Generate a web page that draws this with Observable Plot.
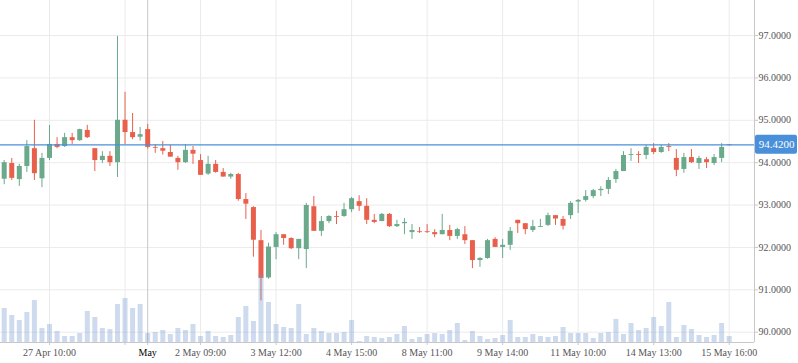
<!DOCTYPE html>
<html>
<head>
<meta charset="utf-8">
<script src="https://cdn.jsdelivr.net/npm/d3@7"></script>
<script src="https://cdn.jsdelivr.net/npm/@observablehq/plot@0.6"></script>
<style>
  html, body { margin: 0; padding: 0; background: #fff; }
  #chart { position: relative; width: 798px; height: 363px; overflow: hidden; }
  #chart svg { position: absolute; left: 0; top: 0; }
  #chart svg.vol { pointer-events: none; }
</style>
</head>
<body>
<div id="chart"></div>
<script>
// OHLC + volume per trading period (index 0..96)
const opens  = [93.61,93.98,93.60,93.91,94.33,93.62,94.10,94.43,94.38,94.59,94.52,94.76,94.33,94.05,94.15,94.00,95.00,94.71,94.60,94.78,
                94.36,94.33,94.24,94.10,94.00,94.29,94.05,93.73,93.96,93.77,93.66,93.72,93.13,92.94,92.16,91.28,92.00,92.30,92.21,91.97,
                91.95,92.96,92.38,92.61,92.73,92.73,92.89,93.08,92.97,92.64,92.61,92.78,92.49,92.56,92.35,92.37,92.37,92.35,92.30,92.40,
                92.26,92.30,92.16,91.69,91.74,92.19,92.00,92.05,92.64,92.56,92.40,92.47,92.52,92.75,92.66,92.75,93.07,93.11,93.20,93.34,
                93.37,93.60,93.79,94.17,94.19,94.17,94.33,94.24,94.38,94.10,93.84,94.12,93.98,94.07,93.98,94.10,94.42];
const highs  = [94.05,94.10,93.96,94.52,95.00,94.22,94.88,94.59,94.69,94.69,94.79,94.88,94.33,94.26,94.26,96.98,95.66,95.16,94.83,94.90,
                94.43,94.50,94.41,94.15,94.43,94.38,94.19,94.15,94.05,93.86,93.75,93.75,93.27,92.96,92.40,92.10,92.35,92.30,92.23,92.19,
                93.04,93.20,92.73,92.75,92.85,93.04,93.18,93.22,93.15,92.78,92.80,92.80,92.64,92.68,92.54,92.47,92.54,92.42,92.78,92.52,
                92.45,92.49,92.16,91.76,92.19,92.23,92.19,92.47,92.64,92.56,92.64,92.66,92.81,92.75,92.73,93.08,93.13,93.34,93.37,93.43,
                93.65,93.84,94.26,94.33,94.26,94.41,94.45,94.41,94.45,94.31,94.22,94.31,94.15,94.12,94.19,94.45,94.42];
const lows   = [93.48,93.58,93.44,93.77,93.58,93.41,94.05,94.33,94.36,94.43,94.50,94.57,93.79,93.98,93.91,93.65,94.43,94.54,94.51,94.32,
                94.22,94.18,94.13,93.82,93.98,93.96,93.70,93.70,93.75,93.66,93.61,93.09,92.66,91.77,90.74,91.25,91.71,92.05,91.95,91.71,
                91.50,92.38,92.26,92.56,92.54,92.71,92.82,92.85,92.54,92.56,92.61,92.47,92.47,92.30,92.19,92.33,92.33,92.23,92.30,92.16,
                92.19,92.07,91.50,91.53,91.72,92.00,91.74,91.93,92.33,92.30,92.35,92.47,92.49,92.52,92.41,92.66,92.80,93.07,93.15,93.20,
                93.25,93.51,93.79,94.03,93.98,94.07,94.19,94.22,94.26,93.67,93.75,93.98,93.84,93.86,93.93,94.00,94.40];
const closes = [94.00,93.63,93.91,94.38,93.74,94.10,94.43,94.36,94.59,94.52,94.78,94.59,94.05,94.15,94.00,95.00,94.71,94.59,94.66,94.36,
                94.34,94.27,94.13,94.00,94.29,94.20,93.70,93.96,93.77,93.66,93.72,93.13,93.02,92.17,91.27,92.01,92.30,92.21,91.97,92.19,
                92.99,92.38,92.61,92.73,92.71,92.89,93.15,92.97,92.64,92.59,92.78,92.49,92.54,92.59,92.40,92.35,92.35,92.30,92.40,92.26,
                92.42,92.16,91.69,91.74,92.16,92.00,92.05,92.38,92.56,92.42,92.49,92.49,92.75,92.67,92.50,93.04,93.11,93.20,93.34,93.37,
                93.58,93.79,94.17,94.19,94.17,94.36,94.24,94.36,94.36,93.82,94.12,94.00,94.10,94.00,94.12,94.36,94.40];
const volumes = [34,27,22,30,42,14,18,11,6,6,9,31,25,14,13,38,44,34,38,9,
                 10,12,8,14,12,18,6,11,6,5,7,25,36,21,68,40,18,15,14,38,
                 8,14,11,9,9,10,22,1,6,5,4,5,8,16,3,5,8,9,8,12,
                 19,2,11,6,3,4,7,22,5,5,8,6,5,6,15,9,9,9,4,9,
                 10,23,8,19,12,14,25,16,40,5,17,13,7,5,7,19,6].map(v => v * 1000);

// axis ticks
const tickIndex  = [6, 16, 19, 26, 36, 46, 56, 66, 76, 86, 96];
const tickLabels = ["27 Apr 10:00", "", "May", "2 May 09:00", "3 May 12:00", "4 May 15:00",
                    "8 May 11:00", "9 May 14:00", "11 May 10:00", "14 May 13:00", "15 May 16:00"];
const monthStart = 19;
const priceTicks = [90, 91, 92, 93, 94, 95, 96, 97];
const lastPrice = 94.42;

const candles = opens.map((o, i) => ({
  i, open: o, high: highs[i], low: lows[i], close: closes[i], volume: volumes[i],
  up: closes[i] >= o
}));

const W = 798, H = 363;
const M = {top: 0, right: 44, bottom: 21, left: 0};
const xDomain = [-0.49, 99.35];
const yDomain = [89.757, 97.826];
const GREEN = "#6aa98b", RED = "#e8604c", BLUE = "#4a8fd9";
const FONT = "'Liberation Serif', 'Times New Roman', serif";
const labelOf = new Map(tickIndex.map((t, k) => [t, tickLabels[k]]));

const main = Plot.plot({
  width: W, height: H,
  marginTop: M.top, marginRight: M.right, marginBottom: M.bottom, marginLeft: M.left,
  style: {fontFamily: FONT, fontSize: "10px", background: "transparent", overflow: "visible"},
  x: {type: "linear", domain: xDomain, axis: null, label: null},
  y: {domain: yDomain, axis: null, label: null},
  marks: [
    Plot.gridY(priceTicks, {stroke: "#ebebeb", strokeOpacity: 1}),
    Plot.gridX(tickIndex.filter(t => t !== monthStart), {stroke: "#ebebeb", strokeOpacity: 1}),
    Plot.ruleX([monthStart], {stroke: "#c8c8c8", y1: yDomain[0], y2: yDomain[1]}),
    // axis lines
    Plot.ruleY([yDomain[0]], {stroke: "#c8c8c8"}),
    Plot.ruleX([xDomain[1]], {stroke: "#c8c8c8"}),
    Plot.axisY(priceTicks, {anchor: "right", label: null, tickSize: 3, tickPadding: 1, stroke: "#c8c8c8",
      fill: "#555", tickFormat: d => d.toFixed(4), fontSize: 10}),
    Plot.axisX(tickIndex, {anchor: "bottom", label: null, tickSize: 3, tickPadding: 3, stroke: "#c8c8c8",
      fill: d => d === monthStart ? "#000" : "#555",
      fontWeight: d => d === monthStart ? "bold" : "normal",
      tickFormat: d => labelOf.get(d), fontSize: 10}),
    // candles
    Plot.ruleX(candles, {x: "i", y1: "low", y2: "high", stroke: d => d.up ? GREEN : RED, strokeWidth: 1}),
    Plot.ruleX(candles, {x: "i", y1: "open", y2: "close", stroke: d => d.up ? GREEN : RED, strokeWidth: 5}),
    // last price line
    Plot.ruleY([lastPrice], {stroke: BLUE, strokeWidth: 1.2, x1: xDomain[0], x2: xDomain[1]})
  ]
});

const vol = Plot.plot({
  width: W, height: H,
  marginTop: M.top, marginRight: M.right, marginBottom: M.bottom, marginLeft: M.left,
  style: {background: "transparent"},
  x: {type: "linear", domain: xDomain, axis: null},
  y: {domain: [0, 342000], axis: null},
  marks: [
    Plot.ruleX(candles, {x: "i", y1: 0, y2: "volume", stroke: "#6f94c9", strokeOpacity: 0.34, strokeWidth: 5})
  ]
});
vol.classList.add("vol");

const label = Plot.plot({
  width: W, height: H,
  marginTop: M.top, marginRight: M.right, marginBottom: M.bottom, marginLeft: M.left,
  style: {fontFamily: FONT, background: "transparent", overflow: "visible"},
  x: {type: "linear", domain: xDomain, axis: null},
  y: {domain: yDomain, axis: null},
  marks: [
    Plot.text([lastPrice], {x: xDomain[1], y: d => d, text: d => d.toFixed(4), dx: 22, fill: "#fff",
      fontSize: 11, textAnchor: "middle"})
  ]
});
label.classList.add("vol");

const chart = document.getElementById("chart");
chart.append(main, vol, label);

// label box behind the price text, positioned from the plot's own scales
const ySc = main.scale("y"), xSc = main.scale("x");
const py = ySc.apply(lastPrice), px = xSc.apply(xDomain[1]);
const ns = "http://www.w3.org/2000/svg";
const box = document.createElementNS(ns, "rect");
box.setAttribute("x", px + 1);
box.setAttribute("y", py - 9.5);
box.setAttribute("width", 42);
box.setAttribute("height", 19);
box.setAttribute("rx", 2);
box.setAttribute("fill", BLUE);
label.insertBefore(box, label.firstChild);
</script>
</body>
</html>
